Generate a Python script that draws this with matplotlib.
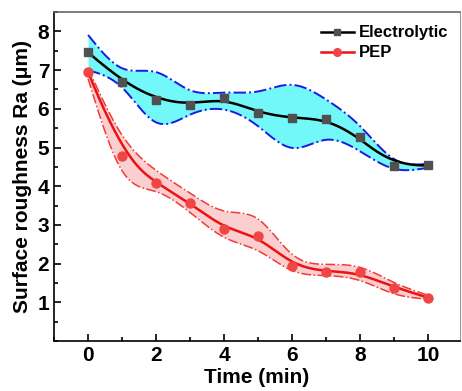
import numpy as np
import matplotlib
matplotlib.use("Agg")
import matplotlib.pyplot as plt
from matplotlib.ticker import MultipleLocator

plt.rcParams["font.family"] = ["Liberation Sans", "DejaVu Sans"]
plt.rcParams["font.weight"] = "bold"

# ── data ────────────────────────────────────────────────────────────────────
time = [0, 1, 2, 3, 4, 5, 6, 7, 8, 9, 10]

elec     = [7.46, 6.70, 6.24, 6.11, 6.28, 5.90, 5.76, 5.74, 5.26, 4.51, 4.54]
elec_up  = [7.91, 7.05, 6.95, 6.48, 6.42, 6.45, 6.62, 6.24, 5.55, 4.70, 4.58]
elec_lo  = [7.00, 6.55, 5.65, 5.85, 5.98, 5.55, 4.99, 5.20, 4.90, 4.45, 4.48]

pep      = [6.95, 4.78, 4.07, 3.57, 2.90, 2.72, 1.95, 1.79, 1.78, 1.38, 1.12]
pep_up   = [7.05, 5.32, 4.41, 3.82, 3.36, 3.15, 2.24, 1.98, 1.90, 1.51, 1.18]
pep_lo   = [6.78, 4.40, 3.86, 3.32, 2.68, 2.33, 1.82, 1.69, 1.56, 1.22, 1.08]


def spline(x, y, n=300):
    """natural cubic spline through the points (band edges)"""
    x = np.asarray(x, float); y = np.asarray(y, float)
    k = len(x)
    h = np.diff(x)
    A = np.zeros((k, k)); b = np.zeros(k)
    A[0, 0] = A[-1, -1] = 1
    for i in range(1, k - 1):
        A[i, i - 1] = h[i - 1]
        A[i, i] = 2 * (h[i - 1] + h[i])
        A[i, i + 1] = h[i]
        b[i] = 6 * ((y[i + 1] - y[i]) / h[i] - (y[i] - y[i - 1]) / h[i - 1])
    M = np.linalg.solve(A, b)
    xs = np.linspace(x[0], x[-1], n)
    idx = np.clip(np.searchsorted(x, xs) - 1, 0, k - 2)
    x0, x1 = x[idx], x[idx + 1]
    hh = x1 - x0
    t0, t1 = x1 - xs, xs - x0
    ys = (M[idx] * t0**3 + M[idx + 1] * t1**3) / (6 * hh) \
        + (y[idx] / hh - M[idx] * hh / 6) * t0 \
        + (y[idx + 1] / hh - M[idx + 1] * hh / 6) * t1
    return xs, ys


def bspline(x, y, n=400):
    """clamped cubic B-spline with the points as control points (Origin B-Spline)"""
    P = np.column_stack([x, y]).astype(float)
    m = len(P)
    kn = np.concatenate([[0] * 3, np.arange(m - 2), [m - 3] * 3]).astype(float)
    u = np.linspace(0, m - 3, n)
    u[-1] -= 1e-9
    # Cox-de Boor
    N = np.array([((kn[i] <= u) & (u < kn[i + 1])).astype(float)
                  for i in range(len(kn) - 1)])
    for p in range(1, 4):
        Nn = np.zeros((len(kn) - 1 - p, n))
        for i in range(len(kn) - 1 - p):
            a = np.zeros(n); c = np.zeros(n)
            d1 = kn[i + p] - kn[i]
            d2 = kn[i + p + 1] - kn[i + 1]
            if d1 > 0:
                a = (u - kn[i]) / d1 * N[i]
            if d2 > 0:
                c = (kn[i + p + 1] - u) / d2 * N[i + 1]
            Nn[i] = a + c
        N = Nn
    C = N.T @ P
    return C[:, 0], C[:, 1]


fig = plt.figure(figsize=(4.62, 3.91), dpi=100)
ax = fig.add_axes([0.117, 0.128, 0.879, 0.841])

# electrolytic band
xs, eu = spline(time, elec_up)
_, el = spline(time, elec_lo)
ax.fill_between(xs, el, eu, color="#72f8f8", lw=0, zorder=1)
ax.plot(xs, eu, color="#1a1ae6", ls="-.", lw=1.4, zorder=2)
ax.plot(xs, el, color="#1a1ae6", ls="-.", lw=1.4, zorder=2)

# PEP band
_, pu = spline(time, pep_up)
_, pl = spline(time, pep_lo)
ax.fill_between(xs, pl, pu, color="#fbcfcf", lw=0, zorder=1)
ax.plot(xs, pu, color="#f03a3a", ls="-.", lw=1.1, zorder=2)
ax.plot(xs, pl, color="#f03a3a", ls="-.", lw=1.1, zorder=2)

# main curves
bx, by = bspline(time, elec)
ax.plot(bx, by, color="black", lw=1.8, zorder=3)
bx, by = bspline(time, pep)
ax.plot(bx, by, color="#ee1111", lw=1.8, zorder=3)
ax.plot(time, elec, "s", color="#505050", ms=6, zorder=4)
ax.plot(time, pep, "o", color="#f04545", ms=6.5, zorder=4)

# legend proxies
ax.plot([], [], "s-", color="black", mfc="#505050", mec="#505050", ms=5,
        lw=1.8, label="Electrolytic")
ax.plot([], [], "o-", color="#ee1111", mfc="#f04545", mec="#f04545", ms=5.5,
        lw=1.8, label="PEP")
ax.legend(loc="upper right", frameon=False, fontsize=12, handlelength=2.0,
          handletextpad=0.3, labelspacing=0.3, borderaxespad=0.3,
          bbox_to_anchor=(1.0, 0.995))

ax.set_xlim(-1, 10.94)
ax.set_ylim(0, 8.5)
ax.set_xticks([0, 2, 4, 6, 8, 10])
ax.xaxis.set_minor_locator(MultipleLocator(1))
ax.set_yticks([1, 2, 3, 4, 5, 6, 7, 8])
ax.yaxis.set_minor_locator(MultipleLocator(0.5))
ax.tick_params(which="both", direction="in", labelsize=15, width=1.2)
ax.tick_params(which="major", length=5)
ax.tick_params(which="minor", length=3)
for lab in ax.get_xticklabels() + ax.get_yticklabels():
    lab.set_fontweight("bold")
for s in ax.spines.values():
    s.set_linewidth(1.2)
ax.spines["top"].set_color("#666666")
ax.spines["right"].set_color("#999999")
ax.spines["right"].set_linewidth(0.8)

ax.set_xlabel("Time (min)", fontsize=15, fontweight="bold", labelpad=2)
ax.set_ylabel("Surface roughness Ra (μm)", fontsize=15, fontweight="bold",
              labelpad=4)

fig.savefig("out.png", dpi=100)
